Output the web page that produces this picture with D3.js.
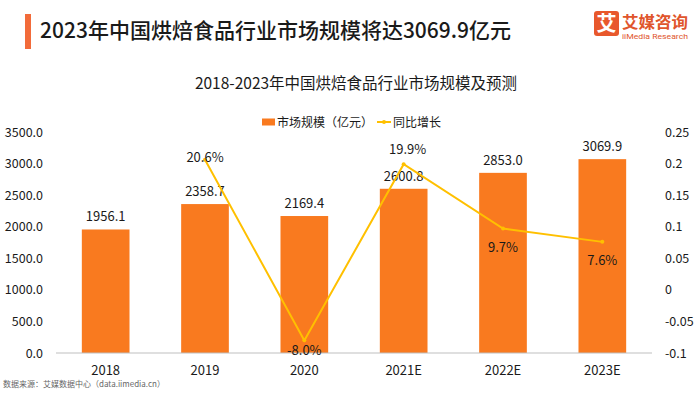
<!DOCTYPE html>
<html><head><meta charset="utf-8">
<script src="https://cdn.jsdelivr.net/npm/d3@7/dist/d3.min.js"></script>
<style>
html,body{margin:0;padding:0;background:#fff;}
svg{display:block;font-family:"Noto Sans CJK SC","Noto Sans",sans-serif;}
</style></head>
<body><svg id="c" width="700" height="395"></svg>
<script>
const categories = ["2018","2019","2020","2021E","2022E","2023E"];
const marketSize = [1956.1, 2358.7, 2169.4, 2600.8, 2853.0, 3069.9];
const growth = [null, 0.206, -0.080, 0.199, 0.097, 0.076];
const growthLabels = [null, "20.6%", "-8.0%", "19.9%", "9.7%", "7.6%"];
const leftTicks = [0, 500, 1000, 1500, 2000, 2500, 3000, 3500];
const rightTicks = [-0.1, -0.05, 0, 0.05, 0.1, 0.15, 0.2, 0.25];
const rightTickLabels = ["-0.1", "-0.05", "0", "0.05", "0.1", "0.15", "0.2", "0.25"];
const title = "2023年中国烘焙食品行业市场规模将达3069.9亿元";
const subtitle = "2018-2023年中国烘焙食品行业市场规模及预测";
const legendNames = ["市场规模（亿元）", "同比增长"];
const source = "数据来源：艾媒数据中心（data.iimedia.cn）";

const svg = d3.select("#c");
const barColor = "#F97A1F", lineColor = "#FFC000", txt = "#1a1a1a";

// header
svg.append("rect").attr("x",25).attr("y",14).attr("width",6).attr("height",35).attr("fill","#F26B3A");
svg.append("text").attr("x",40).attr("y",38).attr("font-size",21).attr("font-weight",500)
  .attr("fill",txt).text(title);
// logo
svg.append("rect").attr("x",594).attr("y",11).attr("width",25).attr("height",25).attr("rx",3).attr("fill","#E8582C");
svg.append("text").attr("x",606.5).attr("y",31).attr("text-anchor","middle").attr("font-size",20)
  .attr("font-weight",700).attr("fill","#fff").text("艾");
svg.append("text").attr("x",622).attr("y",27.5).attr("font-size",16).attr("font-weight",700)
  .attr("fill","#E0552C").attr("textLength",66).attr("lengthAdjust","spacingAndGlyphs").text("艾媒咨询");
svg.append("text").attr("x",622).attr("y",39).attr("font-size",8).attr("fill","#E0552C")
  .attr("textLength",66).attr("lengthAdjust","spacingAndGlyphs").attr("font-family","Roboto, sans-serif").text("iiMedia Research");

svg.append("text").attr("x",356).attr("y",89).attr("text-anchor","middle").attr("font-size",15.5)
  .attr("fill",txt).text(subtitle);

// scales
const x = d3.scaleBand().domain(categories).range([56,652]).paddingInner(0.52).paddingOuter(0.26);
const yL = d3.scaleLinear().domain([0,3500]).range([353,132]);
const yR = d3.scaleLinear().domain([-0.1,0.25]).range([353,132]);

// axes
const axL = svg.append("g").attr("transform","translate(46,0)")
  .call(d3.axisLeft(yL).tickValues(leftTicks).tickSize(0).tickPadding(3).tickFormat(d3.format(".1f")));
const axR = svg.append("g").attr("transform","translate(662,0)")
  .call(d3.axisRight(yR).tickValues(rightTicks).tickSize(0).tickPadding(3)
    .tickFormat((d,i)=>rightTickLabels[i]));
[axL,axR].forEach(a=>{a.select(".domain").remove();
  a.selectAll("text").attr("font-size",12.5).attr("fill",txt).attr("font-family","'Noto Sans CJK SC',sans-serif");});

// bars
svg.append("g").selectAll("rect").data(marketSize).join("rect")
  .attr("x",(d,i)=>x(categories[i])).attr("width",x.bandwidth())
  .attr("y",d=>yL(d)).attr("height",d=>yL(0)-yL(d)).attr("fill",barColor);

// baseline
svg.append("line").attr("x1",56).attr("x2",652).attr("y1",yL(0)).attr("y2",yL(0))
  .attr("stroke","#BFBFBF").attr("stroke-width",1);

// x axis labels
const axB = svg.append("g").attr("transform",`translate(0,${yL(0)})`)
  .call(d3.axisBottom(x).tickSize(0).tickPadding(13));
axB.select(".domain").remove();
axB.selectAll("text").attr("font-size",13).attr("fill",txt).attr("font-family","'Noto Sans CJK SC',sans-serif");

// bar value labels
svg.append("g").selectAll("text").data(marketSize).join("text")
  .attr("x",(d,i)=>x(categories[i])+x.bandwidth()/2).attr("y",d=>yL(d)-8)
  .attr("text-anchor","middle").attr("font-size",13).attr("fill",txt).text(d=>d.toFixed(1));

// growth line
const pts = growth.map((g,i)=>({c:categories[i],g,l:growthLabels[i]})).filter(p=>p.g!==null);
const cx = p=>x(p.c)+x.bandwidth()/2;
svg.append("path").datum(pts)
  .attr("d",d3.line().x(cx).y(p=>yR(p.g)))
  .attr("fill","none").attr("stroke",lineColor).attr("stroke-width",2);
svg.append("g").selectAll("circle").data(pts).join("circle")
  .attr("cx",cx).attr("cy",p=>yR(p.g)).attr("r",2).attr("fill",lineColor);
const labelDy = [2, 15, -10, 23, 23];
const labelDx = [0, 0, 4, 0, 0];
svg.append("g").selectAll("text").data(pts).join("text")
  .attr("x",(p,i)=>cx(p)+labelDx[i]).attr("y",(p,i)=>yR(p.g)+labelDy[i])
  .attr("text-anchor","middle").attr("font-size",13).attr("fill",txt).text(p=>p.l);

// legend
const lg = svg.append("g");
lg.append("rect").attr("x",262).attr("y",118.5).attr("width",13).attr("height",7).attr("fill",barColor);
lg.append("text").attr("x",277).attr("y",127).attr("font-size",12).attr("fill",txt).text(legendNames[0]);
lg.append("line").attr("x1",377).attr("x2",391).attr("y1",122).attr("y2",122).attr("stroke",lineColor).attr("stroke-width",2);
lg.append("circle").attr("cx",384).attr("cy",122).attr("r",2).attr("fill",lineColor);
lg.append("text").attr("x",393).attr("y",127).attr("font-size",12).attr("fill",txt).text(legendNames[1]);

// source
svg.append("text").attr("x",3).attr("y",387).attr("font-size",8).attr("fill","#666").text(source);
</script></body></html>
